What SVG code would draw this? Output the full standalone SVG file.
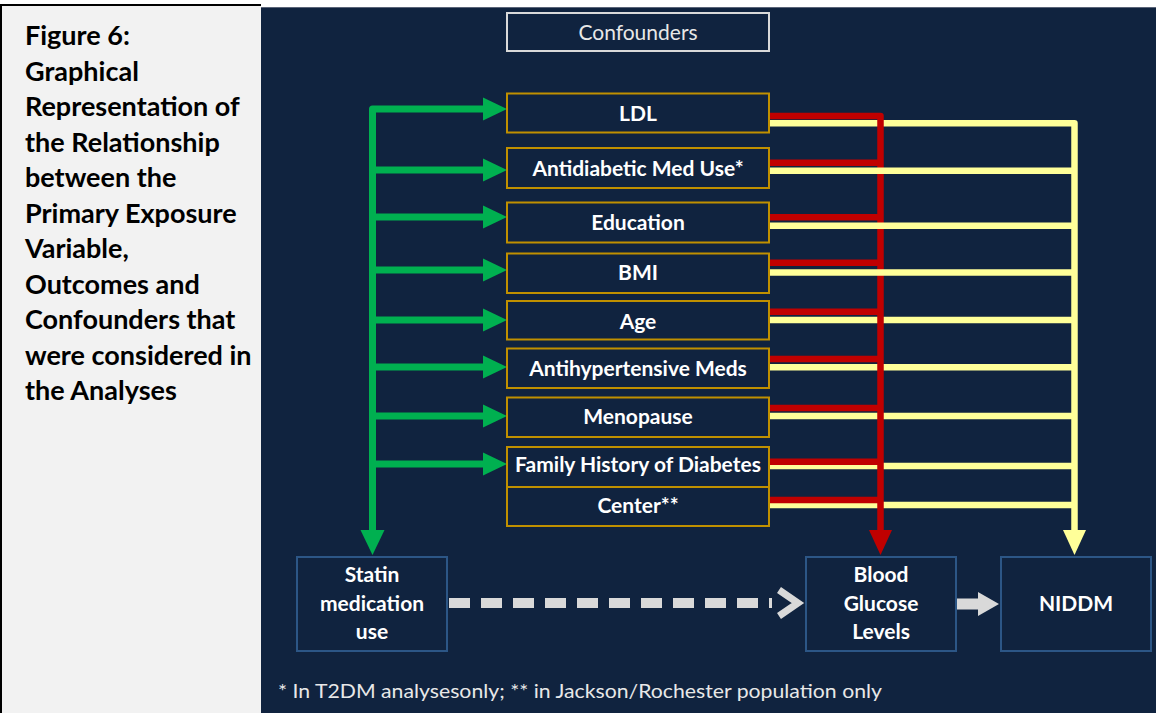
<svg xmlns="http://www.w3.org/2000/svg" width="1156" height="713" viewBox="0 0 1156 713">
<style>
.cap{font-family:Lato,"Liberation Sans",sans-serif;font-weight:700;font-size:27px;fill:#000}
.lbl{font-family:Lato,"Liberation Sans",sans-serif;font-weight:700;font-size:21px;fill:#fff;text-anchor:middle}
.reg{font-family:Lato,"Liberation Sans",sans-serif;font-weight:400;fill:#e8e8e8}
.cbox{fill:#10233f;stroke:#c09000;stroke-width:2}
.bbox{fill:#10233f;stroke:#2c5686;stroke-width:2}
.g{stroke:#00b050;stroke-width:7;fill:none;stroke-linejoin:round}
.r{stroke:#c00000;stroke-width:6.5;fill:none;stroke-linejoin:round}
.y{stroke:#ffff99;stroke-width:6.5;fill:none;stroke-linejoin:round}
</style>
<rect x="0" y="0" width="1156" height="713" fill="#fff"/>
<rect x="0" y="5" width="261" height="708" fill="#f2f2f2"/>
<line x1="0" y1="5" x2="261" y2="5" stroke="#000" stroke-width="2"/>
<line x1="1" y1="5" x2="1" y2="713" stroke="#000" stroke-width="2"/>
<rect x="261" y="7" width="895" height="706" fill="#10233f"/>
<line x1="261" y1="7.5" x2="1156" y2="7.5" stroke="#5a6478" stroke-width="1"/>
<g id="caption">
<text class="cap" x="25" y="45">Figure 6:</text>
<text class="cap" x="25" y="80.5">Graphical</text>
<text class="cap" x="25" y="116">Representation of</text>
<text class="cap" x="25" y="151.5">the Relationship</text>
<text class="cap" x="25" y="187">between the</text>
<text class="cap" x="25" y="222.5">Primary Exposure</text>
<text class="cap" x="25" y="258">Variable,</text>
<text class="cap" x="25" y="293.5">Outcomes and</text>
<text class="cap" x="25" y="329">Confounders that</text>
<text class="cap" x="25" y="364.5">were considered in</text>
<text class="cap" x="25" y="400">the Analyses</text>
</g>
<g id="connectors">
<path class="y" d="M769 320H1074.5M769 367.3H1074.5M769 416H1074.5M769 466H1074.5M769 505H1074.5M769 123.3H1074.5V532"/>
<polygon points="1063,530 1086,530 1074.5,555" fill="#ffff99"/>
<path class="r" d="M769 116H880.5V532M769 162.7H880.5M769 217.3H880.5M769 262.7H880.5M769 311.7H880.5M769 359H880.5M769 408H880.5M769 461.7H880.5M769 500H880.5"/>
<polygon points="869,530 892,530 880.5,555" fill="#c00000"/>
<path class="y" d="M769 170.7H1074.5M769 225.7H1074.5M769 272.5H1074.5"/>
<path class="g" d="M484 109H372.5V532M372.5 170H484M372.5 217H484M372.5 270H484M372.5 320H484M372.5 367H484M372.5 416H484M372.5 464H484"/>
<g fill="#00b050">
<polygon points="483,97.5 507,109 483,120.5"/>
<polygon points="483,158.5 507,170 483,181.5"/>
<polygon points="483,205.5 507,217 483,228.5"/>
<polygon points="483,258.5 507,270 483,281.5"/>
<polygon points="483,308.5 507,320 483,331.5"/>
<polygon points="483,355.5 507,367 483,378.5"/>
<polygon points="483,404.5 507,416 483,427.5"/>
<polygon points="483,452.5 507,464 483,475.5"/>
<polygon points="360.5,530 384.5,530 372.5,555"/>
</g>
<line x1="449" y1="603" x2="772" y2="603" stroke="#d9d9d9" stroke-width="10" stroke-dasharray="21 11"/>
<polyline points="779,590 798,603 779,616" fill="none" stroke="#d9d9d9" stroke-width="7"/>
<polygon points="956,598.5 978,598.5 978,592 999,604 978,616 978,609.5 956,609.5" fill="#d9d9d9"/>
</g>
<g id="confounders"><rect x="507" y="13" width="262" height="38" fill="#10233f" stroke="#d9d9d9" stroke-width="2"/><text class="reg" x="638" y="39.5" font-size="21" text-anchor="middle">Confounders</text></g>
<g id="ldl"><rect class="cbox" x="507" y="93.5" width="262" height="39"/><text class="lbl" x="638" y="120.5">LDL</text></g>
<g id="antidiabetic"><rect class="cbox" x="507" y="148" width="262" height="40"/><text class="lbl" x="638" y="175.5">Antidiabetic Med Use*</text></g>
<g id="education"><rect class="cbox" x="507" y="202.5" width="262" height="40"/><text class="lbl" x="638" y="229.5">Education</text></g>
<g id="bmi"><rect class="cbox" x="507" y="253.5" width="262" height="39.5"/><text class="lbl" x="638" y="279.5">BMI</text></g>
<g id="age"><rect class="cbox" x="507" y="301" width="262" height="38.5"/><text class="lbl" x="638" y="328.5">Age</text></g>
<g id="antihypertensive"><rect class="cbox" x="507" y="348.5" width="262" height="39.5"/><text class="lbl" x="638" y="375.5">Antihypertensive Meds</text></g>
<g id="menopause"><rect class="cbox" x="507" y="397.5" width="262" height="39.5"/><text class="lbl" x="638" y="423.5">Menopause</text></g>
<g id="family"><rect class="cbox" x="507" y="447" width="262" height="40"/><text class="lbl" x="638" y="471.5">Family History of Diabetes</text></g>
<g id="center"><rect class="cbox" x="507" y="487" width="262" height="39"/><text class="lbl" x="638" y="512.5">Center**</text></g>
<g id="statin"><rect class="bbox" x="297" y="557" width="150" height="94"/><text class="lbl" x="372" y="581.5">Statin</text><text class="lbl" x="372" y="610.5">medication</text><text class="lbl" x="372" y="638.5">use</text></g>
<g id="glucose"><rect class="bbox" x="806" y="557" width="150" height="94"/><text class="lbl" x="881" y="581.5">Blood</text><text class="lbl" x="881" y="610.5">Glucose</text><text class="lbl" x="881" y="638.5">Levels</text></g>
<g id="niddm"><rect class="bbox" x="1001" y="557" width="150" height="94"/><text class="lbl" x="1076" y="610.5">NIDDM</text></g>
<g id="footnote"><text class="reg" x="278" y="698" font-size="20" textLength="604" lengthAdjust="spacingAndGlyphs">* In T2DM analysesonly; ** in Jackson/Rochester population only</text></g>
</svg>
